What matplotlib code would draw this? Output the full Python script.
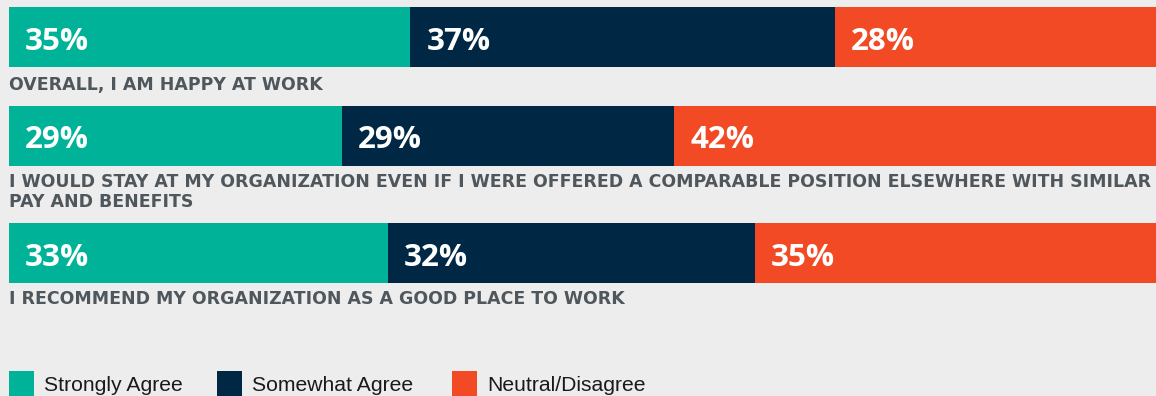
import matplotlib
matplotlib.use("Agg")
import matplotlib.pyplot as plt
from matplotlib.patches import Rectangle

# ---- data ----
questions = [
    "OVERALL, I AM HAPPY AT WORK",
    "I WOULD STAY AT MY ORGANIZATION EVEN IF I WERE OFFERED A COMPARABLE POSITION ELSEWHERE WITH SIMILAR\nPAY AND BENEFITS",
    "I RECOMMEND MY ORGANIZATION AS A GOOD PLACE TO WORK",
]
series_names = ["Strongly Agree", "Somewhat Agree", "Neutral/Disagree"]
strongly_agree = [35, 29, 33]
somewhat_agree = [37, 29, 32]
neutral_disagree = [28, 42, 35]

colors = ["#00b398", "#002845", "#f24a24"]
bg = "#ededed"
label_color = "#4f575c"

W, H = 1156, 396
fig = plt.figure(figsize=(W / 100, H / 100), dpi=100, facecolor=bg)

# bars axes: x in percent, y in pixel-like layout units
ax = fig.add_axes([9 / W, 0, 1147 / W, 1])
ax.set_facecolor(bg)
ax.set_xlim(0, 100)
ax.set_ylim(H, 0)
ax.axis("off")

bar_centers = [37, 136, 253]
bar_h = 60
label_baselines = [90, 207, 304]  # baseline of the last line of each label

series = [strongly_agree, somewhat_agree, neutral_disagree]
for i, yc in enumerate(bar_centers):
    left = 0
    for s, vals in enumerate(series):
        v = vals[i]
        ax.barh(yc, v, left=left, height=bar_h, color=colors[s], edgecolor="none")
        ax.annotate(f"{v}%", xy=(left, yc + 12.5), xytext=(16, 0),
                    textcoords="offset pixels", color="white",
                    fontsize=22.5, fontweight="bold", family="Open Sans",
                    ha="left", va="baseline")
        left += v
    ax.text(0, label_baselines[i], questions[i], color=label_color,
            fontsize=12.5, fontweight="bold", family="DejaVu Sans",
            ha="left", va="baseline", linespacing=1.15)

# legend overlay in pixel coordinates
lg = fig.add_axes([0, 0, 1, 1], facecolor="none")
lg.set_xlim(0, W)
lg.set_ylim(H, 0)
lg.axis("off")
leg_x = [9, 217, 452]
for name, c, x in zip(series_names, colors, leg_x):
    lg.add_patch(Rectangle((x, 371), 25, 26, color=c, lw=0))
    lg.text(x + 35, 391, name, color="#1a1a1a", fontsize=15.2,
            family="Liberation Sans", ha="left", va="baseline")

fig.savefig("out.png", dpi=100, facecolor=bg)
